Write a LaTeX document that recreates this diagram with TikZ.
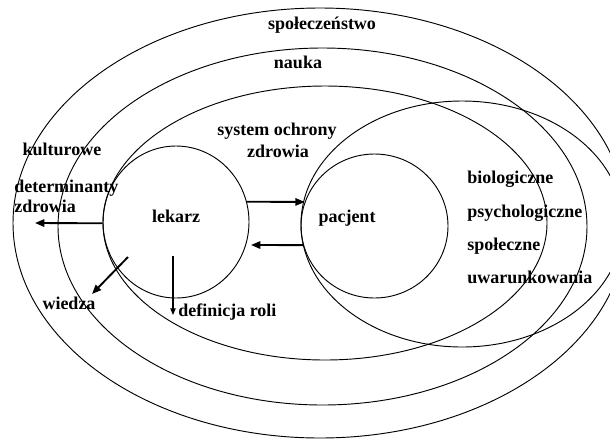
\documentclass[tikz,border=0pt]{standalone}
\usepackage{fontspec}
\setmainfont{Liberation Serif}
\usetikzlibrary{arrows.meta,shapes.geometric}

\tikzset{
  lbl/.style={font=\fontsize{13.5}{16}\selectfont\bfseries, inner sep=0pt},
  ring/.style={line width=0.7pt},
  bigarrow/.style={line width=1.4pt, -{Triangle[length=7pt,width=5.5pt]}},
  thinarrow/.style={line width=0.8pt, -{Triangle[length=5pt,width=4pt]}},
}

\begin{document}
\begin{tikzpicture}[x=0.75pt,y=-0.75pt]
        \useasboundingbox (0,0) rectangle (610,440);

        % nested fields
        \draw[ring] (320,223) ellipse [x radius=307, y radius=215];
        \draw[ring] (322.5,226.5) ellipse [x radius=264.5, y radius=178.5];
        \draw[ring] (325,223) ellipse [x radius=222, y radius=137];
        \draw[ring] (462,224) ellipse [x radius=161, y radius=123];

        % the two persons
        \node[ring, draw, ellipse, inner sep=0pt, minimum width=109.5pt, minimum height=114pt] (lekc) at (176,222) {};
        \node[ring, draw, ellipse, inner sep=0pt, minimum width=110.25pt, minimum height=108pt] (pacc) at (374.5,226) {};

        % labels
        \node[lbl, anchor=base] (spol) at (322,29) {społeczeństwo};
        \node[lbl, anchor=base] (nauka) at (298,68) {nauka};
        \node[lbl, anchor=base] (sys) at (277,135) {system ochrony};
        \node[lbl, anchor=base] (sysz) at (278,157) {zdrowia};
        \node[lbl, anchor=base] (kult) at (62,155) {kulturowe};
        \node[lbl, anchor=base west] (det) at (14,192) {determinanty};
        \node[lbl, anchor=base west] (detz) at (14,212) {zdrowia};
        \node[lbl, anchor=base] (lek) at (176,222) {lekarz};
        \node[lbl, anchor=base] (pac) at (347,222) {pacjent};
        \node[lbl, anchor=base] (wiedza) at (69,309) {wiedza};
        \node[lbl, anchor=base west] (rola) at (178,316) {definicja roli};
        \node[lbl, anchor=base west] (bio) at (467,183) {biologiczne};
        \node[lbl, anchor=base west] (psy) at (467,217) {psychologiczne};
        \node[lbl, anchor=base west] (spo) at (467,250) {społeczne};
        \node[lbl, anchor=base west] (uwa) at (467,283) {uwarunkowania};

        % arrow ends
        \coordinate (detTip) at (35,223);
        \coordinate (wiedzaFrom) at (128,257);
        \coordinate (wiedzaTip) at (92,294);
        \coordinate (rolaFrom) at (173,256);
        \coordinate (rolaTip) at (173,315);
        \coordinate (backTip) at (251,245);

        % arrows
        \draw[bigarrow] (lekc.181) -- (detTip);
        \draw[bigarrow] (wiedzaFrom) -- (wiedzaTip);
        \draw[thinarrow] (rolaFrom) -- (rolaTip);
        \draw[bigarrow] (lekc.16) -- (pacc.161);
        \draw[bigarrow] (pacc.195) -- (backTip);
\end{tikzpicture}
\end{document}
